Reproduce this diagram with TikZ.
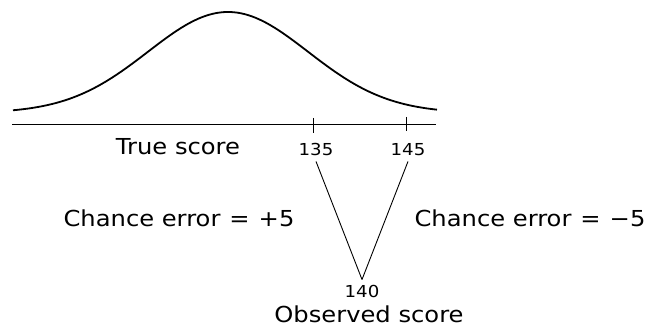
\documentclass[tikz,border=0pt]{standalone}
\usepackage{fontspec}
\setmainfont{DejaVu Sans}[FakeStretch=1.1]
\tikzset{
  num/.style={anchor=base, inner sep=5pt, font=\fontsize{16.5}{18}\selectfont},
  lbl/.style={anchor=base, font=\fontsize{22}{26}\selectfont},
}
\begin{document}
\begin{tikzpicture}[x=1pt, y=-1pt]
\useasboundingbox (0,0) rectangle (652,328);
% true score distribution
\draw[line width=1.8pt] plot[domain=13:437, samples=120, smooth] (\x, {113-101*exp(-0.5*((\x-228)/80)^2)});
% axis and ticks
\coordinate (L) at (12,125);
\coordinate (R) at (436,125);
\draw[line width=1pt] (L) -- (R);
\draw[line width=1pt] (313,118) -- (313,133);
\draw[line width=1pt] (406,117) -- (406,131);
\node (true) [lbl] at (178,155) {True score};
\node (n135) [num] at (316,156) {135};
\node (n145) [num] at (408,156) {145};
\node (n140) [num] at (362,297) {140};
\node (obs) [lbl] at (369,322) {Observed score};
\node (plus) [lbl] at (179,227) {Chance error\hspace{9pt}=\hspace{9pt}+5};
\node (minus) [lbl] at (530,227) {Chance error\hspace{9pt}=\hspace{9pt}−5};
\draw[line width=0.9pt] (n135.south) -- (n140.north);
\draw[line width=0.9pt] (n145.south) -- (n140.north);
\end{tikzpicture}
\end{document}
